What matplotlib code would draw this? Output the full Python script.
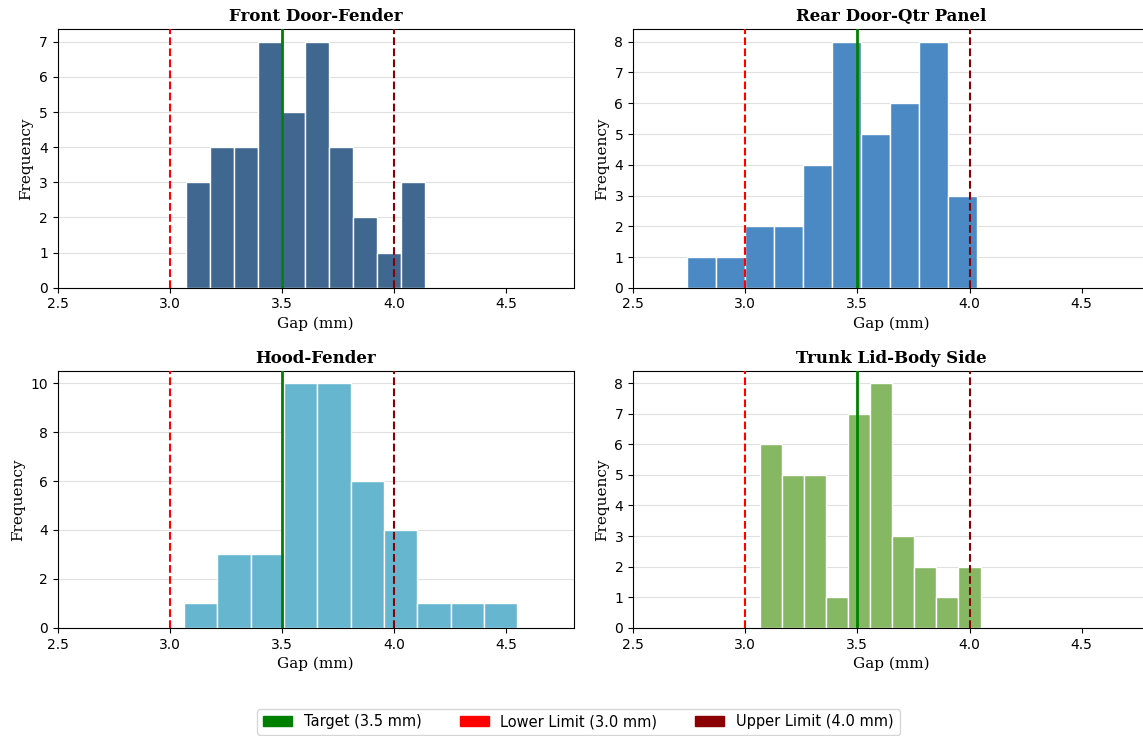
import numpy as np
import matplotlib.pyplot as plt
from matplotlib.patches import Patch

titles = ["Front Door-Fender", "Rear Door-Qtr Panel", "Hood-Fender", "Trunk Lid-Body Side"]
colors = ["#3f6790", "#4a89c3", "#67b6cf", "#86b863"]

# histogram bin range (min, max) and counts
bin_range = [(3.071, 4.137), (2.742, 4.031), (3.062, 4.548), (3.064, 4.049)]
counts = [
    [3, 4, 4, 7, 5, 7, 4, 2, 1, 3],
    [1, 1, 2, 2, 4, 8, 5, 6, 8, 3],
    [1, 3, 3, 10, 10, 6, 4, 1, 1, 1],
    [6, 5, 5, 1, 7, 8, 3, 2, 1, 2],
]
target, lower, upper = 3.5, 3.0, 4.0

fig = plt.figure(figsize=(11.43, 7.36), dpi=100)
# right column runs a little past the figure edge, as in the reference
positions = [
    [0.0505, 0.609, 0.4515, 0.351],
    [0.5538, 0.609, 0.4515, 0.351],
    [0.0505, 0.147, 0.4515, 0.349],
    [0.5538, 0.147, 0.4515, 0.349],
]

for i in range(4):
    ax = fig.add_axes(positions[i])
    lo, hi = bin_range[i]
    edges = np.linspace(lo, hi, len(counts[i]) + 1)
    centers = (edges[:-1] + edges[1:]) / 2
    ax.hist(centers, bins=edges, weights=counts[i], color=colors[i],
            edgecolor="white", linewidth=1, zorder=2)
    ax.axvline(target, color="green", lw=2, zorder=3)
    ax.axvline(lower, color="red", lw=1.5, ls="--", zorder=3)
    ax.axvline(upper, color="darkred", lw=1.5, ls="--", zorder=3)
    ax.set_xlim(2.5, 4.8)
    ax.set_xticks([2.5, 3.0, 3.5, 4.0, 4.5])
    ax.grid(axis="y", color="#e0e0e0", lw=0.8, zorder=0)
    ax.set_axisbelow(True)
    ax.set_title(titles[i], fontsize=12, fontweight="bold", family="DejaVu Serif")
    ax.set_xlabel("Gap (mm)", fontsize=11, family="DejaVu Serif")
    ax.set_ylabel("Frequency", fontsize=11, family="DejaVu Serif")
    ax.tick_params(labelsize=10)

handles = [
    Patch(color="green", label="Target (3.5 mm)"),
    Patch(color="red", label="Lower Limit (3.0 mm)"),
    Patch(color="darkred", label="Upper Limit (4.0 mm)"),
]
fig.legend(handles=handles, loc="lower center", bbox_to_anchor=(0.506, -0.009),
           ncol=3, fontsize=10.5, frameon=True, columnspacing=2.6)

fig.savefig("out.png", dpi=100)
